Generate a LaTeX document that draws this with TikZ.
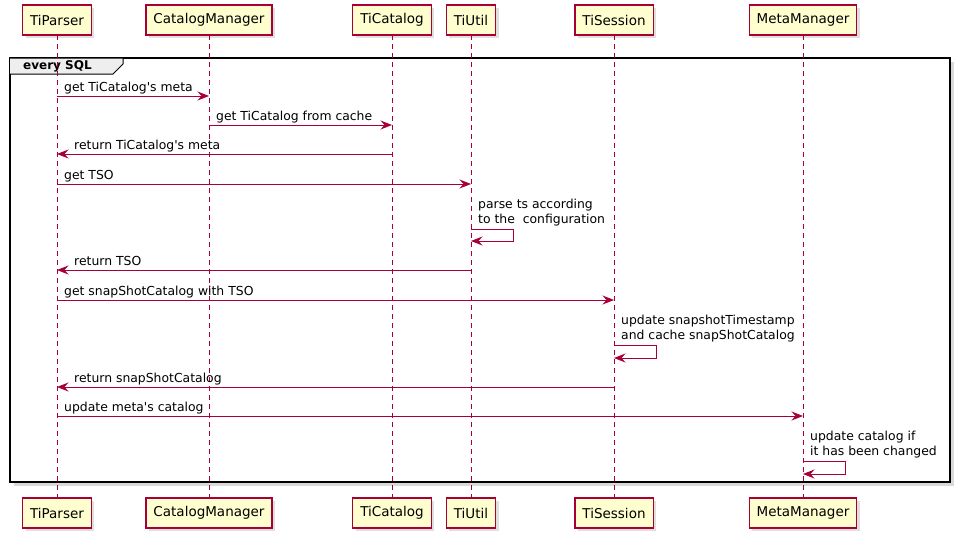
\documentclass[tikz,border=0pt]{standalone}
\usepackage{fontspec}
\setmainfont{DejaVu Sans}
\usetikzlibrary{arrows.meta,shadows,positioning}
\definecolor{umlred}{HTML}{A80036}
\definecolor{umlfill}{HTML}{FEFECE}
\definecolor{tabgray}{HTML}{EEEEEE}

\begin{document}
\begin{tikzpicture}[
			x=1pt, y=-1pt,
			Part/.style={draw=umlred, fill=umlfill, line width=1.1pt, minimum height=30pt,
				inner xsep=7.5pt, outer sep=0pt, font=\fontsize{13.5}{16}\selectfont,
				drop shadow={shadow xshift=3pt, shadow yshift=-3pt, opacity=0.25}},
			Life/.style={draw=umlred, line width=0.8pt, dash pattern=on 5pt off 4pt},
			Msg/.style={draw=umlred, line width=0.9pt,
				-{Stealth[length=11.5pt, width=9pt, inset=4pt]}},
			Lbl/.style={font=\fontsize{12.4}{15}\selectfont, anchor=base west, inner sep=0pt},
			Self/.style={font=\fontsize{12.4}{15}\selectfont, anchor=south west, inner sep=0pt, align=left},
			]
			\useasboundingbox (0,0) rectangle (962,541);
			
			% group frame
			\draw[line width=1.8pt, fill=white,
			drop shadow={shadow xshift=4pt, shadow yshift=-4pt, opacity=0.3}] (10,58) rectangle (950,482);
			\draw[line width=1pt, fill=tabgray] (10,58) -- (123,58) -- (123,64) -- (113,74) -- (10,74);
			\node[font=\bfseries\fontsize{12}{14}\selectfont, anchor=west, inner sep=0pt] (grp) at (23,66) {every SQL};
			
			% participants
			\node [Part] (parser) at (57,20) {TiParser};
			\node [Part] (catmgr) at (209,20) {CatalogManager};
			\node [Part] (cat) at (392,20) {TiCatalog};
			\node [Part] (util) at (471,20) {TiUtil};
			\node [Part] (sess) at (614,20) {TiSession};
			\node [Part] (meta) at (803,20) {MetaManager};
			
			\node [Part] (parserB) at (57,513) {TiParser};
			\node [Part] (catmgrB) at (209,513) {CatalogManager};
			\node [Part] (catB) at (392,513) {TiCatalog};
			\node [Part] (utilB) at (471,513) {TiUtil};
			\node [Part] (sessB) at (614,513) {TiSession};
			\node [Part] (metaB) at (803,513) {MetaManager};
			
			\draw[Life] (parser) -- (parserB);
			\draw[Life] (catmgr) -- (catmgrB);
			\draw[Life] (cat) -- (catB);
			\draw[Life] (util) -- (utilB);
			\draw[Life] (sess) -- (sessB);
			\draw[Life] (meta) -- (metaB);
			
			% message rows
			\coordinate (m1) at (0,96);
			\coordinate (m2) at (0,125);
			\coordinate (m3) at (0,154);
			\coordinate (m4) at (0,184);
			\coordinate (s1) at (0,229);
			\coordinate (s1e) at (0,241);
			\coordinate (m6) at (0,270);
			\coordinate (m7) at (0,300);
			\coordinate (s2) at (0,345);
			\coordinate (s2e) at (0,358);
			\coordinate (m9) at (0,387);
			\coordinate (m10) at (0,416);
			\coordinate (s3) at (0,461);
			\coordinate (s3e) at (0,474);
			
			\draw[Msg] (parser|-m1) -- (catmgr|-m1);
			\path (parser|-m1) ++(7,-5) node[Lbl] (t1) {get TiCatalog\textquotesingle s meta};
			
			\draw[Msg] (catmgr|-m2) -- (cat|-m2);
			\path (catmgr|-m2) ++(7,-5) node[Lbl] (t2) {get TiCatalog from cache};
			
			\draw[Msg] (cat|-m3) -- (parser|-m3);
			\path (parser|-m3) ++(17,-5) node[Lbl] (t3) {return TiCatalog\textquotesingle s meta};
			
			\draw[Msg] (parser|-m4) -- (util|-m4);
			\path (parser|-m4) ++(7,-5) node[Lbl] (t4) {get TSO};
			
			\draw[Msg] (util|-s1) -- ++(42,0) -- ++(0,12) -- (util|-s1e);
			\path (util|-s1) ++(7,-3) node[Self] (t5) {parse ts according\\to the\ \ configuration};
			
			\draw[Msg] (util|-m6) -- (parser|-m6);
			\path (parser|-m6) ++(17,-5) node[Lbl] (t6) {return TSO};
			
			\draw[Msg] (parser|-m7) -- (sess|-m7);
			\path (parser|-m7) ++(7,-5) node[Lbl] (t7) {get snapShotCatalog with TSO};
			
			\draw[Msg] (sess|-s2) -- ++(42,0) -- ++(0,13) -- (sess|-s2e);
			\path (sess|-s2) ++(7,-3) node[Self] (t8) {update snapshotTimestamp\\and cache snapShotCatalog};
			
			\draw[Msg] (sess|-m9) -- (parser|-m9);
			\path (parser|-m9) ++(17,-5) node[Lbl] (t9) {return snapShotCatalog};
			
			\draw[Msg] (parser|-m10) -- (meta|-m10);
			\path (parser|-m10) ++(7,-5) node[Lbl] (t10) {update meta\textquotesingle s catalog};
			
			\draw[Msg] (meta|-s3) -- ++(42,0) -- ++(0,13) -- (meta|-s3e);
			\path (meta|-s3) ++(7,-3) node[Self] (t11) {update catalog if\\it has been changed};
		\end{tikzpicture}
\end{document}
